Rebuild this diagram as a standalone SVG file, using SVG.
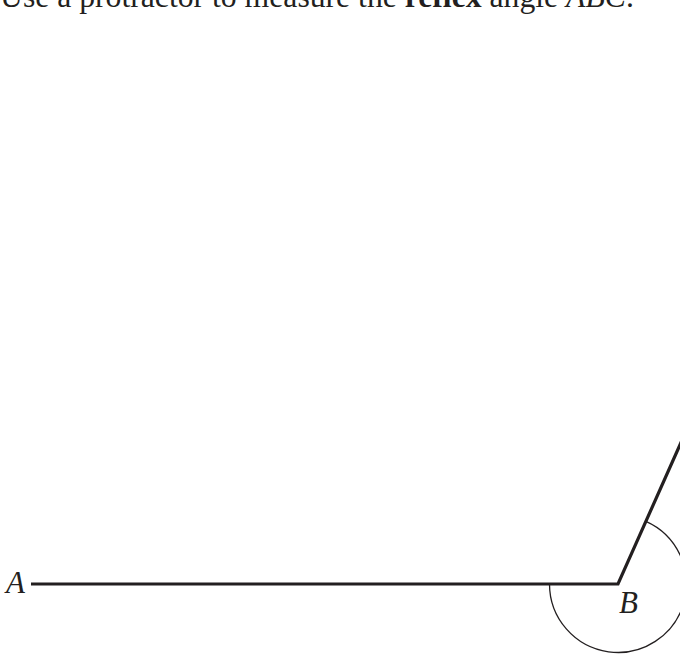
<svg xmlns="http://www.w3.org/2000/svg" width="680" height="655" viewBox="0 0 680 655">
<style>
.t{font-family:"Liberation Serif","Times New Roman",serif;fill:#231f20}
.ray{fill:none;stroke:#231f20;stroke-width:3.2;stroke-linejoin:miter}
.arc{fill:none;stroke:#231f20;stroke-width:1.3}
</style>
<rect width="680" height="655" fill="#fff"/>
<text class="t" x="0" y="6.7" font-size="31.7">Use a protractor to measure the <tspan font-weight="bold">reflex</tspan> angle <tspan font-style="italic">ABC</tspan>.</text>
<g id="connectors">
<polyline id="angle-rays" class="ray" points="31,584 618,584 700,399.8"/>
<path id="reflex-arc" class="arc" d="M549.5 584 A68.5 68.5 0 1 0 645.9 521.4"/>
</g>
<g id="A"><text class="t" x="6" y="593" font-size="31" font-style="italic">A</text></g>
<g id="B"><text class="t" x="619" y="613" font-size="31" font-style="italic">B</text></g>
</svg>
